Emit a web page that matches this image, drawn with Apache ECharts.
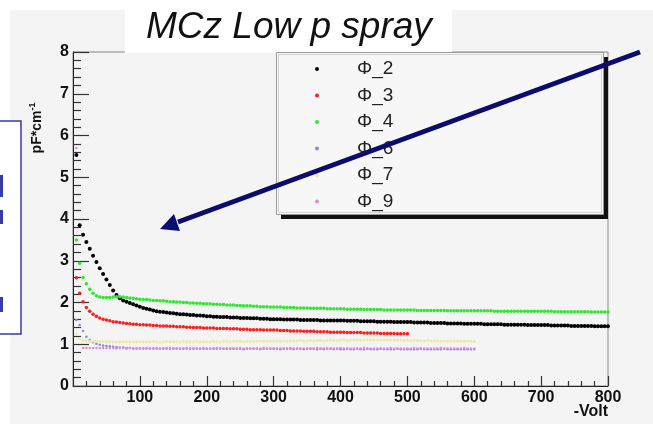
<!DOCTYPE html>
<html>
<head>
<meta charset="utf-8">
<script src="https://cdn.jsdelivr.net/npm/echarts@6/dist/echarts.min.js"></script>
<style>
  body { margin: 0; background: #fff; }
  #chart {
    width: 653px; height: 424px;
    background: linear-gradient(#f4f4f4, #f4f4f4) 10px 10px / 643px 414px no-repeat, #fff;
  }
</style>
</head>
<body>
<div id="chart"></div>
<script>
// bias voltage (-V), one reading every 5 V
const volts = [
  5,10,15,20,25,30,35,40,45,50,55,60,65,70,75,80,85,90,95,100,
  105,110,115,120,125,130,135,140,145,150,155,160,165,170,175,180,185,190,195,200,
  205,210,215,220,225,230,235,240,245,250,255,260,265,270,275,280,285,290,295,300,
  305,310,315,320,325,330,335,340,345,350,355,360,365,370,375,380,385,390,395,400,
  405,410,415,420,425,430,435,440,445,450,455,460,465,470,475,480,485,490,495,500,
  505,510,515,520,525,530,535,540,545,550,555,560,565,570,575,580,585,590,595,600,
  605,610,615,620,625,630,635,640,645,650,655,660,665,670,675,680,685,690,695,700,
  705,710,715,720,725,730,735,740,745,750,755,760,765,770,775,780,785,790,795,800
];

// capacitance pF/cm
const phi2 = [
  5.53,3.85,3.62,3.45,3.29,3.12,2.97,2.82,2.68,2.55,2.42,2.29,2.18,2.10,2.05,2.02,1.99,1.96,1.93,1.90,
  1.87,1.85,1.83,1.81,1.79,1.78,1.77,1.76,1.75,1.74,1.73,1.72,1.72,1.71,1.70,1.70,1.69,1.69,1.68,1.67,
  1.67,1.66,1.66,1.65,1.65,1.65,1.64,1.64,1.64,1.63,1.63,1.63,1.62,1.62,1.62,1.61,1.61,1.61,1.60,1.60,
  1.60,1.60,1.59,1.59,1.59,1.59,1.59,1.58,1.58,1.58,1.58,1.58,1.58,1.57,1.57,1.57,1.57,1.57,1.57,1.57,
  1.57,1.56,1.56,1.56,1.56,1.55,1.55,1.55,1.55,1.55,1.54,1.54,1.54,1.54,1.54,1.53,1.53,1.53,1.53,1.53,
  1.53,1.52,1.52,1.52,1.52,1.52,1.51,1.51,1.51,1.51,1.51,1.50,1.50,1.50,1.50,1.50,1.49,1.49,1.49,1.49,
  1.49,1.49,1.48,1.48,1.48,1.48,1.48,1.48,1.47,1.47,1.47,1.47,1.47,1.47,1.47,1.46,1.46,1.46,1.46,1.46,
  1.46,1.46,1.45,1.45,1.45,1.45,1.45,1.45,1.44,1.44,1.44,1.44,1.44,1.44,1.44,1.43,1.43,1.43,1.43,1.43
];
const phi3 = [
  2.59,2.22,2.02,1.88,1.79,1.72,1.67,1.63,1.60,1.58,1.56,1.54,1.53,1.52,1.51,1.50,1.49,1.48,1.48,1.47,
  1.47,1.46,1.46,1.45,1.45,1.44,1.44,1.44,1.43,1.43,1.42,1.42,1.42,1.41,1.41,1.40,1.40,1.40,1.39,1.39,
  1.39,1.39,1.38,1.38,1.38,1.38,1.37,1.37,1.37,1.36,1.36,1.36,1.35,1.35,1.35,1.35,1.34,1.34,1.34,1.34,
  1.34,1.33,1.33,1.33,1.32,1.32,1.32,1.32,1.31,1.31,1.31,1.31,1.30,1.30,1.30,1.30,1.29,1.29,1.29,1.29,
  1.29,1.28,1.28,1.28,1.28,1.28,1.27,1.27,1.27,1.27,1.27,1.26,1.26,1.26,1.26,1.26,1.25,1.25,1.25,1.25
];
const phi4 = [
  3.50,2.94,2.60,2.45,2.32,2.22,2.16,2.13,2.12,2.12,2.12,2.13,2.14,2.14,2.13,2.12,2.11,2.10,2.09,2.08,
  2.07,2.07,2.06,2.05,2.05,2.04,2.04,2.03,2.02,2.02,2.01,2.01,2.00,2.00,1.99,1.99,1.98,1.98,1.97,1.97,
  1.97,1.96,1.96,1.95,1.95,1.94,1.94,1.94,1.93,1.93,1.92,1.92,1.92,1.91,1.91,1.90,1.90,1.90,1.89,1.89,
  1.89,1.89,1.88,1.88,1.88,1.88,1.87,1.87,1.87,1.87,1.86,1.86,1.86,1.86,1.86,1.85,1.85,1.85,1.85,1.85,
  1.85,1.84,1.84,1.84,1.84,1.84,1.83,1.83,1.83,1.83,1.83,1.83,1.82,1.82,1.82,1.82,1.82,1.82,1.82,1.82,
  1.82,1.82,1.81,1.81,1.81,1.81,1.81,1.81,1.81,1.81,1.81,1.80,1.80,1.80,1.80,1.80,1.80,1.80,1.80,1.80,
  1.80,1.80,1.80,1.80,1.80,1.79,1.79,1.79,1.79,1.79,1.79,1.79,1.79,1.79,1.79,1.79,1.79,1.79,1.79,1.79,
  1.79,1.79,1.79,1.78,1.78,1.78,1.78,1.78,1.78,1.78,1.78,1.78,1.78,1.78,1.77,1.77,1.77,1.77,1.77,1.77
];
const phi6 = [
  1.58,1.46,1.32,1.18,1.10,1.05,1.01,0.99,0.97,0.96,0.95,0.94,0.93,0.92,0.92,0.91,0.91,0.90,0.90,0.90,
  0.90,0.90,0.90,0.90,0.90,0.89,0.90,0.90,0.89,0.90,0.90,0.89,0.89,0.90,0.89,0.89,0.90,0.89,0.89,0.89,
  0.89,0.89,0.89,0.90,0.89,0.89,0.89,0.89,0.89,0.89,0.88,0.89,0.89,0.89,0.89,0.88,0.89,0.89,0.89,0.89,
  0.89,0.88,0.89,0.89,0.89,0.88,0.89,0.89,0.88,0.89,0.89,0.89,0.88,0.89,0.88,0.89,0.89,0.88,0.89,0.88,
  0.88,0.89,0.88,0.88,0.89,0.88,0.88,0.89,0.88,0.88,0.88,0.89,0.88,0.88,0.88,0.88,0.89,0.88,0.88,0.88,
  0.88,0.88,0.88,0.89,0.88,0.88,0.88,0.88,0.88,0.88,0.89,0.88,0.88,0.88,0.88,0.88,0.88,0.88,0.88,0.88
];
const phi7 = [
  1.25,1.14,1.10,1.08,1.07,1.07,1.07,1.07,1.07,1.06,1.06,1.06,1.06,1.06,1.06,1.06,1.06,1.06,1.06,1.06,
  1.06,1.06,1.06,1.07,1.06,1.06,1.06,1.07,1.06,1.06,1.06,1.06,1.07,1.06,1.06,1.06,1.07,1.06,1.06,1.06,
  1.06,1.07,1.06,1.06,1.07,1.07,1.06,1.07,1.07,1.07,1.06,1.07,1.07,1.07,1.07,1.08,1.07,1.07,1.07,1.08,
  1.07,1.08,1.08,1.07,1.08,1.08,1.08,1.09,1.08,1.08,1.09,1.08,1.09,1.09,1.08,1.09,1.10,1.09,1.09,1.10,
  1.10,1.09,1.10,1.10,1.11,1.10,1.10,1.11,1.10,1.11,1.11,1.10,1.11,1.10,1.10,1.11,1.10,1.10,1.09,1.10,
  1.09,1.10,1.09,1.09,1.08,1.09,1.08,1.08,1.08,1.07,1.08,1.08,1.07,1.08,1.08,1.07,1.07,1.08,1.07,1.07
];
const phi9 = [
  5.70,'-',0.91,0.91,0.91,0.91,0.91,0.91,0.91,0.91,0.91,0.91,0.90,0.91,0.91,0.90,0.91,0.90,0.90,0.91,
  0.90,0.91,0.90,0.90,0.91,0.90,0.90,0.90,0.91,0.90,0.90,0.90,0.90,0.91,0.90,0.90,0.90,0.90,0.91,0.90,
  0.90,0.90,0.91,0.90,0.90,0.90,0.90,0.90,0.90,0.91,0.90,0.90,0.90,0.90,0.90,0.90,0.91,0.90,0.90,0.90,
  0.90,0.90,0.90,0.90,0.91,0.90,0.90,0.90,0.90,0.90,0.90,0.90,0.91,0.90,0.90,0.90,0.90,0.90,0.90,0.91,
  0.90,0.90,0.90,0.90,0.90,0.90,0.91,0.90,0.90,0.90,0.90,0.90,0.90,0.90,0.91,0.90,0.90,0.90,0.90,0.90,
  0.90,0.91,0.90,0.90,0.90,0.90,0.90,0.90,0.90,0.91,0.90,0.90,0.90,0.90,0.90,0.90,0.91,0.90,0.90,0.90
];

const names = ['Φ_2', 'Φ_3', 'Φ_4', 'Φ_6', 'Φ_7', 'Φ_9'];
const values = [phi2, phi3, phi4, phi6, phi7, phi9];
const colors = ['#000000', '#ff1c1c', '#2ee82e', '#8a86e4', '#eee8a6', '#d98ce0'];
const sizes = [4, 3.5, 3.5, 2.5, 3, 2.5];

const font = 'Liberation Sans, Arial, sans-serif';
const chart = echarts.init(document.getElementById('chart'));

const series = names.map(function (n, i) {
  return {
    type: 'scatter',
    name: n,
    data: values[i].map(function (c, j) { return [volts[j], c]; }),
    symbolSize: sizes[i],
    itemStyle: { color: colors[i], opacity: 1 },
    silent: true
  };
});

const navy = '#0c0c6e';

chart.setOption({
  animation: false,
  title: {
    text: 'MCz Low p spray',
    left: 146, top: 0, padding: [9, 0],
    z: 6,
    textStyle: { fontFamily: font, fontSize: 37, fontStyle: 'italic', fontWeight: 'normal', color: '#111' }
  },
  legend: {
    data: names,
    orient: 'vertical',
    left: 315, top: 59, padding: 0,
    itemWidth: 4, itemHeight: 4, itemGap: 6.5,
    icon: 'circle',
    selectedMode: false,
    z: 10,
    textStyle: { fontFamily: font, fontSize: 19, color: '#222', lineHeight: 20, padding: [0, 0, 0, 33] }
  },
  grid: {
    left: 73, top: 52, width: 535, height: 334,
    show: true, borderColor: '#888', borderWidth: 1, backgroundColor: 'transparent'
  },
  xAxis: {
    type: 'value', min: 0, max: 800, interval: 100,
    axisLine: { lineStyle: { color: '#222', width: 1 } },
    axisTick: { inside: true, length: 10, lineStyle: { color: '#333', width: 1.2 } },
    minorTick: { show: true, splitNumber: 5, length: 5, lineStyle: { color: '#333', width: 1.2 } },
    splitLine: { show: false },
    axisLabel: { showMinLabel: false, margin: 4, fontFamily: font, fontSize: 16, fontWeight: 'bold', color: '#111' }
  },
  yAxis: {
    type: 'value', min: 0, max: 8, interval: 1,
    axisLine: { lineStyle: { color: '#222', width: 1 } },
    axisTick: { inside: true, length: 16, lineStyle: { color: '#333', width: 1.2 } },
    minorTick: { show: true, splitNumber: 5, length: 8, lineStyle: { color: '#333', width: 1.2 } },
    splitLine: { show: false },
    axisLabel: { margin: 4, fontFamily: font, fontSize: 16, fontWeight: 'bold', color: '#111' }
  },
  graphic: [
    // white box behind the title
    { type: 'rect', z: 5, shape: { x: 125, y: 0, width: 327, height: 53 }, style: { fill: '#fff' } },
    // box cut off at the left edge
    { type: 'rect', z: 5, shape: { x: -2, y: 121, width: 23, height: 213 }, style: { fill: '#fff', stroke: '#3a3aa6', lineWidth: 1.5 } },
    { type: 'rect', z: 5, shape: { x: 0, y: 175, width: 3, height: 22 }, style: { fill: '#3a3aa6' } },
    { type: 'rect', z: 5, shape: { x: 0, y: 210, width: 3, height: 14 }, style: { fill: '#3a3aa6' } },
    { type: 'rect', z: 5, shape: { x: 0, y: 297, width: 3, height: 15 }, style: { fill: '#3a3aa6' } },
    // legend frame with shadow
    { type: 'rect', z: 5, shape: { x: 281, y: 57, width: 327, height: 162 }, style: { fill: '#111' } },
    { type: 'rect', z: 5, shape: { x: 276.5, y: 52.5, width: 327, height: 162 }, style: { fill: '#f7f7f7', stroke: '#999', lineWidth: 1 } },
    { type: 'rect', z: 5, shape: { x: 278.5, y: 54.5, width: 323, height: 158 }, style: { fill: 'none', stroke: '#d4d4d4', lineWidth: 1 } },
    // axis titles
    {
      type: 'text', z: 6, x: 37, y: 128, rotation: Math.PI / 2,
      style: {
        text: '{a|pF*cm}{b|-1}', align: 'center', verticalAlign: 'middle', fill: '#111',
        rich: {
          a: { fontFamily: font, fontSize: 14, fontWeight: 'bold' },
          b: { fontFamily: font, fontSize: 9, fontWeight: 'bold', padding: [0, 0, 8, 0] }
        }
      }
    },
    {
      type: 'text', z: 6, x: 608, y: 412,
      style: { text: '-Volt', align: 'right', verticalAlign: 'middle', fill: '#111', font: 'bold 16px ' + font }
    },
    // arrow
    { type: 'line', z: 20, shape: { x1: 640, y1: 52, x2: 178, y2: 222 }, style: { stroke: navy, lineWidth: 5 } },
    { type: 'polygon', z: 20, shape: { points: [[160, 229], [180, 231], [174, 214]] }, style: { fill: navy } }
  ],
  series: series
});
</script>
</body>
</html>
